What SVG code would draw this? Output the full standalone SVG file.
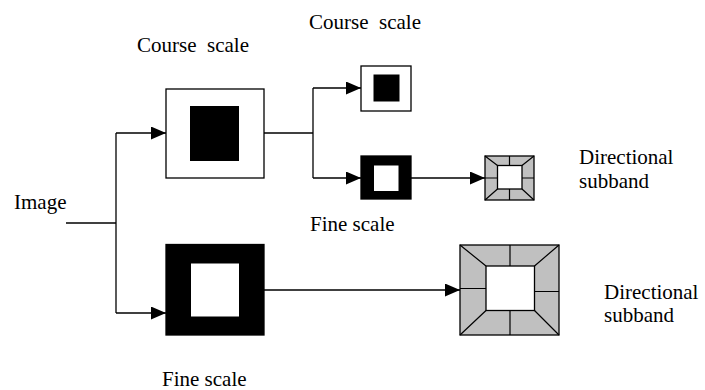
<svg xmlns="http://www.w3.org/2000/svg" width="705" height="390" viewBox="0 0 705 390">
<style>
  text { font-family: 'Liberation Serif', 'Tinos', 'Times New Roman', 'DejaVu Serif', serif; font-size: 21px; fill: #000; }
  .frame { stroke: #000; stroke-width: 1.3; }
  .conn { fill: none; stroke: #000; stroke-width: 1.3; }
  .grey { fill: #c0c0c0; stroke: #000; stroke-width: 1.3; }
  .div { stroke: #000; stroke-width: 1.2; fill: none; }
</style>
<defs>
  <marker id="arr" viewBox="0 0 15 13" refX="15" refY="6.5" markerWidth="15" markerHeight="13" markerUnits="userSpaceOnUse" orient="auto">
    <path d="M0,0 L15,6.5 L0,13 Z" fill="#000"/>
  </marker>
</defs>
<rect width="705" height="390" fill="#fff"/>

<g id="connectors">
  <path class="conn" d="M66,223 H116"/>
  <path class="conn" d="M116,133 V313"/>
  <path class="conn" d="M116,133 H166" marker-end="url(#arr)"/>
  <path class="conn" d="M116,313 H166" marker-end="url(#arr)"/>
  <path class="conn" d="M264,133 H313"/>
  <path class="conn" d="M313,88 V178"/>
  <path class="conn" d="M313,88 H361" marker-end="url(#arr)"/>
  <path class="conn" d="M313,178 H361" marker-end="url(#arr)"/>
  <path class="conn" d="M411,178 H485" marker-end="url(#arr)"/>
  <path class="conn" d="M264,290 H460" marker-end="url(#arr)"/>
</g>

<g id="image-label">
  <text x="14" y="209" font-family="Liberation Serif, serif">Image</text>
</g>

<g id="coarse-large">
  <rect class="frame" x="166" y="89" width="98" height="89" fill="#fff"/>
  <rect x="190" y="106" width="49" height="55" fill="#000"/>
  <text x="137" y="52" xml:space="preserve">Course  scale</text>
</g>

<g id="fine-large">
  <rect class="frame" x="166" y="244.5" width="98" height="90.5" fill="#000"/>
  <rect x="191" y="263.5" width="48" height="53" fill="#fff"/>
  <text x="162" y="386">Fine scale</text>
</g>

<g id="coarse-small">
  <rect class="frame" x="361" y="66" width="50" height="45" fill="#fff"/>
  <rect x="373.5" y="74.5" width="26" height="27" fill="#000"/>
  <text x="309" y="29" xml:space="preserve">Course  scale</text>
</g>

<g id="fine-small">
  <rect class="frame" x="361" y="156" width="50" height="43" fill="#000"/>
  <rect x="374" y="165.5" width="24.5" height="25.5" fill="#fff"/>
  <text x="310" y="231">Fine scale</text>
</g>

<g id="directional-small">
  <rect class="grey" x="485" y="156" width="49" height="44"/>
  <rect class="frame" x="497.5" y="165.5" width="24.5" height="23.5" fill="#fff"/>
  <path class="div" d="M485,156 L497.5,165.5 M534,156 L522,165.5 M485,200 L497.5,189 M534,200 L522,189 M509.5,156 V165.5 M509.5,189 V200 M485,178 H497.5 M522,178 H534"/>
  <text x="579" y="164">Directional</text>
  <text x="579" y="188">subband</text>
</g>

<g id="directional-large">
  <rect class="grey" x="460" y="245" width="99" height="90"/>
  <rect class="frame" x="486" y="266" width="48.5" height="44.5" fill="#fff"/>
  <path class="div" d="M460,245 L486,266 M559,245 L534.5,266 M460,335 L486,310.5 M559,335 L534.5,310.5 M510,245 V266 M510,310.5 V335 M460,288.5 H486 M534.5,291.5 H559"/>
  <text x="604" y="299">Directional</text>
  <text x="604" y="322">subband</text>
</g>
</svg>
